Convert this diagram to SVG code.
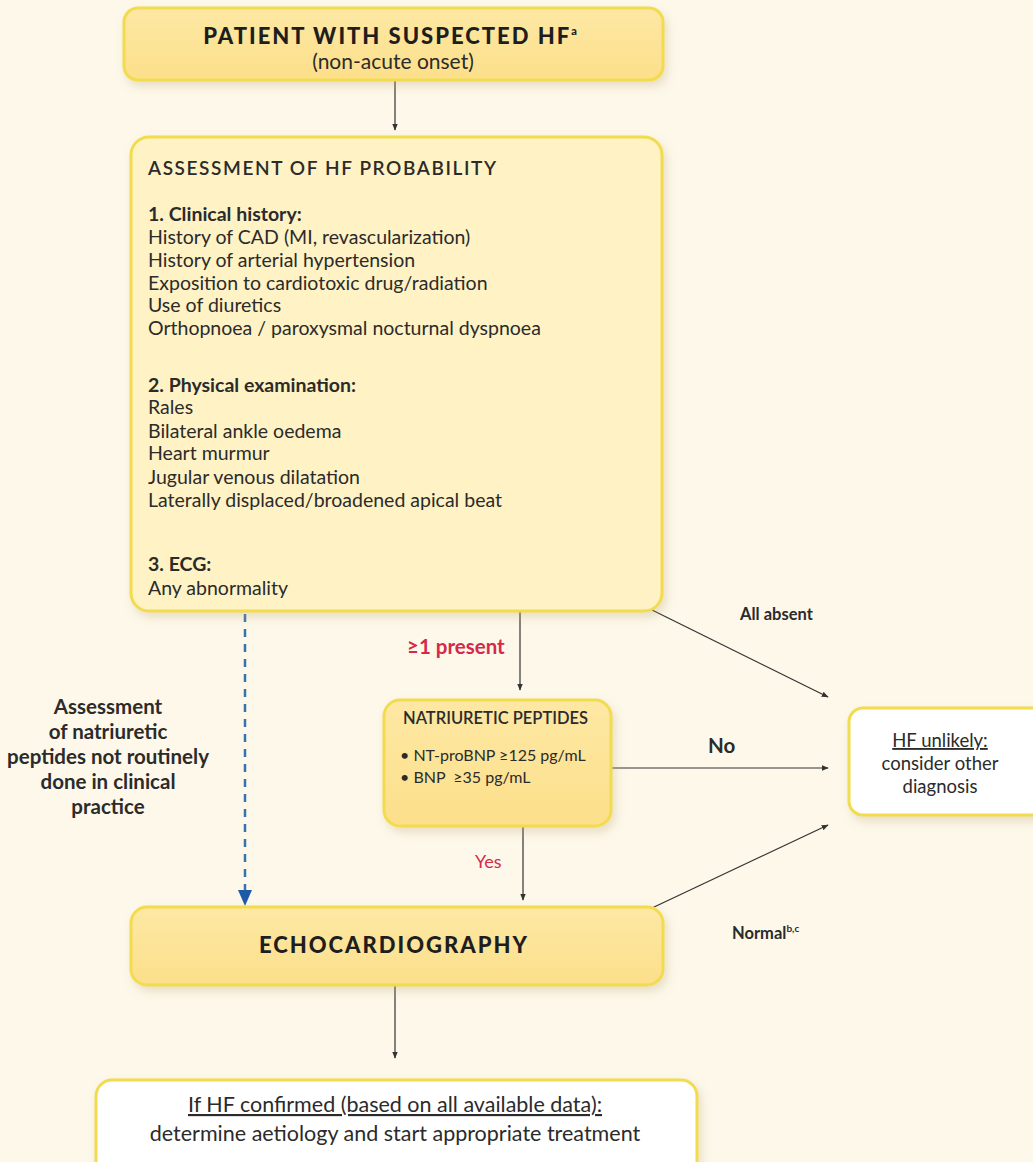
<svg xmlns="http://www.w3.org/2000/svg" width="1033" height="1162" viewBox="0 0 1033 1162">
  <defs>
    <linearGradient id="gY" x1="0" y1="0" x2="0" y2="1">
      <stop offset="0" stop-color="#fde8a4"/>
      <stop offset="1" stop-color="#fcdf8a"/>
    </linearGradient>
    <filter id="sh" x="-10%" y="-10%" width="125%" height="130%">
      <feDropShadow dx="3" dy="5" stdDeviation="5" flood-color="#b8a070" flood-opacity="0.3"/>
    </filter>
    <marker id="ah" viewBox="0 0 10 10" refX="9" refY="5" markerWidth="7" markerHeight="7" orient="auto" markerUnits="userSpaceOnUse">
      <path d="M0,1 L10,5 L0,9 z" fill="#333"/>
    </marker>
    <style>
      text { font-family: Lato, "Liberation Sans", sans-serif; fill: #2b2b2b; }
      .yb { fill: url(#gY); stroke: #f2dc4e; stroke-width: 3; filter: url(#sh); }
      .lb { fill: #fff2c4; stroke: #f2dc4e; stroke-width: 3; filter: url(#sh); }
      .wb { fill: #ffffff; stroke: #f2dc4e; stroke-width: 3; filter: url(#sh); }
      .t { font-size: 19.5px; }
      .h { font-size: 19.5px; font-weight: 700; }
      .big { font-size: 22px; font-weight: 900; fill: #1e1e1e; letter-spacing: 2px; }
      .lab { font-size: 20.5px; font-weight: 700; }
      .np { font-size: 16px; white-space: pre; }
      .bt { font-size: 21.5px; }
      .red { fill: #d6284a; }
      .c { text-anchor: middle; }
      .ln { stroke: #333; stroke-width: 1.2; fill: none; marker-end: url(#ah); }
    </style>
  </defs>
  <rect width="1033" height="1162" fill="#fdf8ea"/>

  <g id="connectors">
    <line class="ln" x1="395" y1="81" x2="395" y2="130"/>
    <line class="ln" x1="520" y1="612" x2="520" y2="690"/>
    <line class="ln" x1="652" y1="610" x2="828" y2="697"/>
    <line class="ln" x1="612" y1="768" x2="828" y2="768"/>
    <line class="ln" x1="523" y1="827" x2="523" y2="900"/>
    <line class="ln" x1="652" y1="908" x2="828" y2="825"/>
    <line class="ln" x1="395" y1="986" x2="395" y2="1058"/>
    <line x1="245" y1="614" x2="245" y2="892" stroke="#3a72b0" stroke-width="2.5" stroke-dasharray="8,7"/>
    <path d="M238,890 L252,890 L245,906 z" fill="#1f5aa8"/>
    <text class="lab red" x="407" y="654">≥1 present</text>
    <text class="h" x="740" y="620" style="font-size:16.5px">All absent</text>
    <text class="lab" x="708" y="753">No</text>
    <text class="red" x="475" y="868" style="font-size:18px">Yes</text>
    <text class="h" x="732" y="939" style="font-size:16.5px">Normal<tspan font-size="10" dy="-7">b,c</tspan></text>
    <text class="lab c" x="108" y="714">Assessment</text>
    <text class="lab c" x="108" y="739">of natriuretic</text>
    <text class="lab c" x="108" y="764">peptides not routinely</text>
    <text class="lab c" x="108" y="789">done in clinical</text>
    <text class="lab c" x="108" y="814">practice</text>
  </g>

  <g id="patient">
    <rect class="yb" x="124" y="8" width="539" height="72" rx="14"/>
    <text class="big c" x="390" y="44">PATIENT WITH SUSPECTED HF<tspan font-size="11" dy="-9" letter-spacing="0">a</tspan></text>
    <text class="c" x="393" y="69" style="font-size:21px">(non-acute onset)</text>
  </g>

  <g id="assessment">
    <rect class="lb" x="131" y="137" width="531" height="474" rx="18"/>
    <text class="h" x="148" y="175" style="font-size:19px;font-weight:600;letter-spacing:1.6px">ASSESSMENT OF HF PROBABILITY</text>
    <text class="h" x="148" y="221">1. Clinical history:</text>
    <text class="t" x="148" y="244">History of CAD (MI, revascularization)</text>
    <text class="t" x="148" y="267">History of arterial hypertension</text>
    <text class="t" x="148" y="290">Exposition to cardiotoxic drug/radiation</text>
    <text class="t" x="148" y="312">Use of diuretics</text>
    <text class="t" x="148" y="335">Orthopnoea / paroxysmal nocturnal dyspnoea</text>
    <text class="h" x="148" y="392">2. Physical examination:</text>
    <text class="t" x="148" y="414">Rales</text>
    <text class="t" x="148" y="438">Bilateral ankle oedema</text>
    <text class="t" x="148" y="460">Heart murmur</text>
    <text class="t" x="148" y="484">Jugular venous dilatation</text>
    <text class="t" x="148" y="507">Laterally displaced/broadened apical beat</text>
    <text class="h" x="148" y="571">3. ECG:</text>
    <text class="t" x="148" y="595">Any abnormality</text>
  </g>

  <g id="natriuretic">
    <rect class="yb" x="384" y="700" width="227" height="126" rx="16"/>
    <text class="h" x="403" y="724" style="font-size:16.5px;font-weight:600">NATRIURETIC PEPTIDES</text>
    <text class="np" x="400" y="761">• NT-proBNP ≥125 pg/mL</text>
    <text class="np" x="400" y="783">• BNP  ≥35 pg/mL</text>
  </g>

  <g id="unlikely">
    <rect class="wb" x="849" y="708" width="200" height="107" rx="14"/>
    <text class="c" x="940" y="747" style="font-size:18.5px" text-decoration="underline">HF unlikely:</text>
    <text class="c" x="940" y="770" style="font-size:18.5px">consider other</text>
    <text class="c" x="940" y="793" style="font-size:18.5px">diagnosis</text>
  </g>

  <g id="echo">
    <rect class="yb" x="131" y="907" width="532" height="78" rx="16"/>
    <text class="big c" x="394" y="953">ECHOCARDIOGRAPHY</text>
  </g>

  <g id="confirmed">
    <rect class="wb" x="96" y="1080" width="601" height="100" rx="16"/>
    <text class="bt c" x="395" y="1112" text-decoration="underline">If HF confirmed (based on all available data):</text>
    <text class="bt c" x="395" y="1141">determine aetiology and start appropriate treatment</text>
  </g>
</svg>
